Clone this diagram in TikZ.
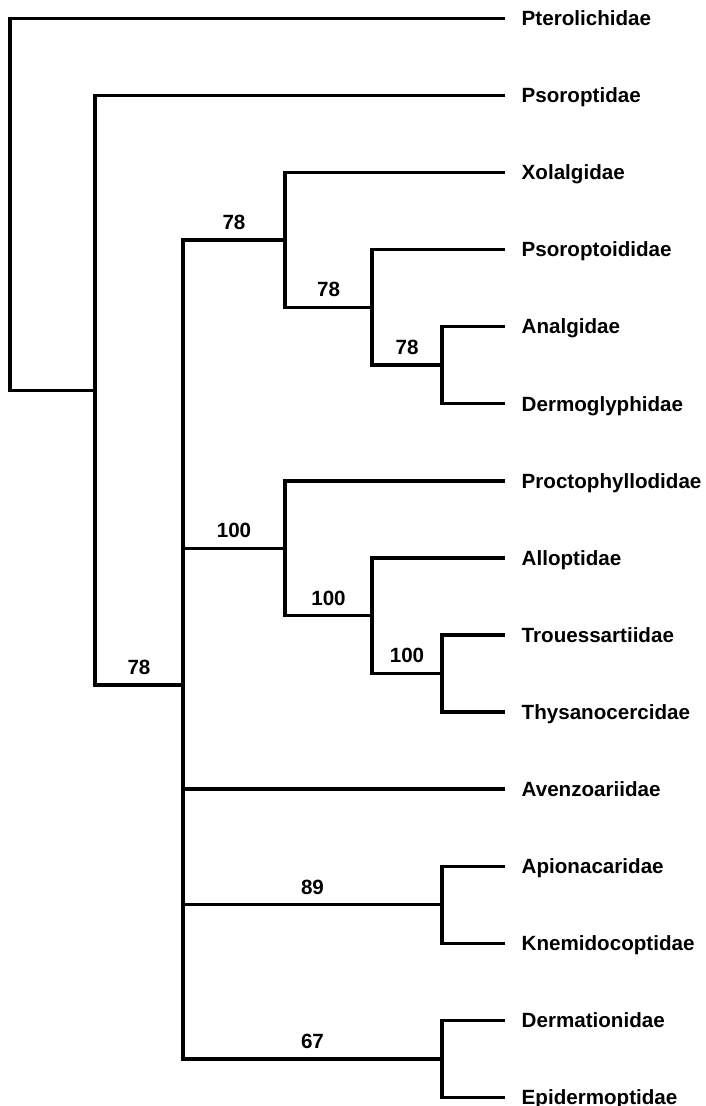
\documentclass[tikz,border=0pt]{standalone}
\usepackage{fontspec}
\setmainfont{Liberation Sans}

\begin{document}
\begin{tikzpicture}[x=1pt,y=-1pt,line width=3.4pt,line join=miter,
  taxon/.style={anchor=west,inner xsep=15pt,inner ysep=0pt,
    text height=14.7pt,text depth=0pt,
    font=\bfseries\fontsize{20.6}{24}\selectfont},
  support/.style={anchor=base,inner sep=0pt,yshift=10.6pt,
    font=\bfseries\fontsize{20.6}{24}\selectfont}]

\useasboundingbox (0,0) rectangle (705,1106);

% Taxa
\node[taxon] (ptero)  at (505,18.3)   {Pterolichidae};
\node[taxon] (psorop) at (505,95.4)   {Psoroptidae};
\node[taxon] (xolal)  at (505,172.5)  {Xolalgidae};
\node[taxon] (psoroi) at (505,249.5)  {Psoroptoididae};
\node[taxon] (analg)  at (505,326.6)  {Analgidae};
\node[taxon] (dermog) at (505,403.7)  {Dermoglyphidae};
\node[taxon] (procto) at (505,480.8)  {Proctophyllodidae};
\node[taxon] (allop)  at (505,557.9)  {Alloptidae};
\node[taxon] (troue)  at (505,635)    {Trouessartiidae};
\node[taxon] (thysa)  at (505,712)    {Thysanocercidae};
\node[taxon] (avenz)  at (505,789.1)  {Avenzoariidae};
\node[taxon] (apion)  at (505,866.2)  {Apionacaridae};
\node[taxon] (knemi)  at (505,943.2)  {Knemidocoptidae};
\node[taxon] (dermat) at (505,1020.3) {Dermationidae};
\node[taxon] (epide)  at (505,1097.4) {Epidermoptidae};

% Internal nodes
\coordinate (nC) at (442,365.1);
\coordinate (nB) at (372,307.3);
\coordinate (nA) at (285,239.9);
\coordinate (nF) at (442,673.5);
\coordinate (nE) at (372,615.7);
\coordinate (nD) at (285,548.2);
\coordinate (nG) at (442,904.7);
\coordinate (nH) at (442,1058.8);
\coordinate (nP) at (183,685);
\coordinate (nQ) at (95,390.2);
\coordinate (nR) at (10,204.2);

% Branches
\draw (nC) |- (analg.west);
\draw (nC) |- (dermog.west);
\draw (nB) |- (psoroi.west);
\draw (nB) |- (nC);
\draw (nA) |- (xolal.west);
\draw (nA) |- (nB);
\draw (nF) |- (troue.west);
\draw (nF) |- (thysa.west);
\draw (nE) |- (allop.west);
\draw (nE) |- (nF);
\draw (nD) |- (procto.west);
\draw (nD) |- (nE);
\draw (nG) |- (apion.west);
\draw (nG) |- (knemi.west);
\draw (nH) |- (dermat.west);
\draw (nH) |- (epide.west);
\draw (nP) |- (nA);
\draw (nP) |- (nD);
\draw (nP) |- (avenz.west);
\draw (nP) |- (nG);
\draw (nP) |- (nH);
\draw (nQ) |- (psorop.west);
\draw (nQ) |- (nP);
\draw (nR) |- (ptero.west);
\draw (nR) |- (nQ);

% Support values
\path (nP |- nA) -- node[support] (bsA) {78} (nA);
\path (nA |- nB) -- node[support] (bsB) {78} (nB);
\path (nB |- nC) -- node[support] (bsC) {78} (nC);
\path (nP |- nD) -- node[support] (bsD) {100} (nD);
\path (nD |- nE) -- node[support] (bsE) {100} (nE);
\path (nE |- nF) -- node[support] (bsF) {100} (nF);
\path (nQ |- nP) -- node[support] (bsP) {78} (nP);
\path (nP |- nG) -- node[support] (bsG) {89} (nG);
\path (nP |- nH) -- node[support] (bsH) {67} (nH);

\end{tikzpicture}
\end{document}
